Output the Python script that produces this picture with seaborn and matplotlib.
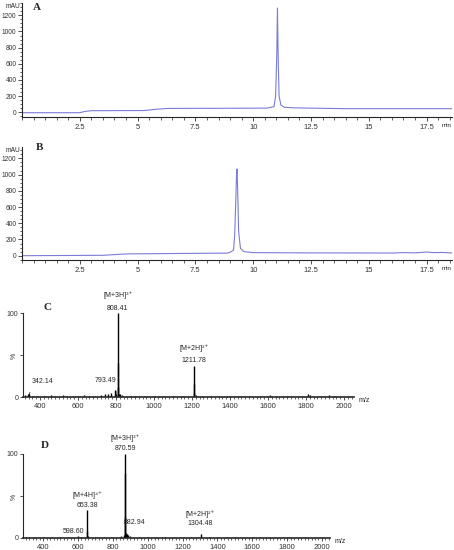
import numpy as np
import pandas as pd
import matplotlib
matplotlib.use("Agg")
import matplotlib.pyplot as plt
import seaborn as sns
from matplotlib.ticker import MultipleLocator

# --- datos de los cromatogramas (min, mAU) ---
tiempo_a = [0.0, 2.5, 2.7, 3.0, 5.3, 5.7, 6.3, 9.0, 10.6, 10.9, 10.97, 11.02, 11.05,
            11.08, 11.12, 11.2, 11.35, 11.8, 14.0, 18.6]
abs_a = [-5, -5, 10, 20, 22, 35, 48, 50, 52, 70, 200, 700, 1290,
         700, 200, 90, 62, 55, 45, 45]

tiempo_b = [0.0, 3.5, 4.5, 7.0, 8.9, 9.05, 9.15, 9.2, 9.25, 9.28, 9.3, 9.33, 9.37,
            9.45, 9.6, 10.0, 12.0, 16.0, 16.5, 17.0, 17.5, 17.8, 18.2, 18.6]
abs_b = [0, 5, 22, 28, 32, 50, 70, 250, 700, 1000, 1070, 800, 300,
         90, 50, 38, 35, 33, 38, 35, 45, 38, 40, 33]

# --- espectros de masas (m/z, %) ---
mz_c = [318, 335, 342.14, 360, 390, 420, 455, 480, 520, 540, 575, 600, 630, 660, 690,
        720, 740, 760, 775, 793.49, 800, 808.41, 808.75, 809.1, 815, 820, 830, 850,
        880, 900, 950, 1000, 1050, 1100, 1150, 1211.78, 1212.28, 1212.8, 1220, 1250,
        1300, 1400, 1500, 1610, 1700, 1810, 1820, 1920, 1950]
int_c = [2, 3, 3.5, 1.5, 1, 1.5, 2, 1, 2.5, 1.5, 1, 1.5, 2, 1.5, 1,
         2, 3.5, 4, 5, 8, 3, 100, 40, 12, 4, 3, 2, 1.5,
         1, 1.5, 1, 1, 1, 1.5, 1, 37, 15, 5, 2, 1,
         1, 1, 1, 2.5, 1, 3, 2, 2, 1.5]

mz_d = [300, 350, 400, 450, 500, 550, 598.60, 620, 653.38, 653.63, 660, 700, 750, 800,
        850, 865, 870.59, 870.92, 871.25, 875, 882.94, 890, 900, 950, 1000, 1050, 1100,
        1150, 1200, 1250, 1304.48, 1350, 1400, 1450, 1500, 1600, 1700, 1800, 1900, 2000]
int_d = [1, 1.5, 1, 1.5, 1, 1.5, 2.5, 1, 33, 8, 2, 1, 1.5, 1.5,
         2, 3, 100, 77, 25, 6, 5, 3, 2, 1.5, 1.5, 1, 1.5,
         1, 1, 1, 5, 1, 1.5, 1, 1, 1, 1, 1, 1, 1]

sns.set_style("ticks")
plt.rcParams['font.family'] = ['Liberation Sans', 'DejaVu Sans']
plt.rcParams['font.size'] = 5.5
plt.rcParams['axes.linewidth'] = 0.8

W, H = 454, 550
fig = plt.figure(figsize=(W / 100, H / 100), dpi=100)

def caja(x0, y0, x1, y1):
    return [x0 / W, 1 - y1 / H, (x1 - x0) / W, (y1 - y0) / H]

color_uv = "#7b7bd8"

def cromatograma(pos, t, a, ylim, letra, lpos):
    ax = fig.add_axes(caja(*pos))
    df = pd.DataFrame({'t': t, 'a': a})
    sns.lineplot(data=df, x='t', y='a', ax=ax, color=color_uv, lw=0.8, sort=False)
    ax.set_xlim(0, 18.6)
    ax.set_ylim(*ylim)
    ax.set_xlabel('')
    ax.set_ylabel('')
    sns.despine(ax=ax)
    ax.xaxis.set_major_locator(MultipleLocator(2.5))
    ax.xaxis.set_minor_locator(MultipleLocator(0.5))
    ax.yaxis.set_major_locator(MultipleLocator(200))
    ax.yaxis.set_minor_locator(MultipleLocator(50))
    ax.set_xticks([2.5, 5, 7.5, 10, 12.5, 15, 17.5])
    ax.set_xticklabels(['2.5', '5', '7.5', '10', '12.5', '15', '17.5'])
    ax.tick_params(which='major', length=3, width=0.6, pad=2, colors='#333333')
    ax.tick_params(axis='y', labelsize=4.8, pad=1)
    ax.tick_params(which='minor', length=1.8, width=0.5)
    ax.text(-0.005, 1.0, 'mAU', transform=ax.transAxes, ha='right', va='top', fontsize=4.8)
    ax.text(1.0, -0.05, 'min', transform=ax.transAxes, ha='right', va='top', fontsize=4.5)
    fig.text(lpos[0] / W, 1 - lpos[1] / H, letra, family='Liberation Serif',
             fontweight='bold', fontsize=8, ha='center', va='center')
    return ax

cromatograma((22, 3, 452, 117), tiempo_a, abs_a, (-58, 1352), 'A', (37, 7))
cromatograma((22, 147, 452, 260), tiempo_b, abs_b, (-53, 1340), 'B', (40, 148))

def espectro(pos, mz, inten, xlim, letra, lpos):
    ax = fig.add_axes(caja(*pos))
    ax.vlines(mz, 0, inten, color='black', lw=1.0)
    ax.set_xlim(*xlim)
    ax.set_ylim(0, 100)
    sns.despine(ax=ax)
    ax.set_xticks([400, 600, 800, 1000, 1200, 1400, 1600, 1800, 2000])
    ax.xaxis.set_minor_locator(MultipleLocator(20))
    ax.set_yticks([0, 50, 100])
    ax.set_yticklabels(['0', '%', '100'])
    ax.get_yticklabels()[1].set_rotation(90)
    ax.get_yticklabels()[1].set_fontsize(4.5)
    ax.tick_params(which='major', length=2.5, width=0.6, pad=2, colors='#333333')
    ax.tick_params(axis='y', labelsize=5, pad=1)
    ax.tick_params(which='minor', length=1.5, width=0.5)
    ax.spines['bottom'].set_linewidth(1.2)
    ax.text(1.015, 0.0, 'm/z', transform=ax.transAxes, ha='left', va='top', fontsize=5)
    fig.text(lpos[0] / W, 1 - lpos[1] / H, letra, family='Liberation Serif',
             fontweight='bold', fontsize=8, ha='center', va='center')
    return ax

def etiqueta(ax, x, y, texto):
    ax.text(x, y, texto, ha='center', va='center', fontsize=5, clip_on=False)

def guia(ax, texto, xy, xytext, rad):
    ax.annotate(texto, xy=xy, xytext=xytext, ha='center', va='center', fontsize=5,
                annotation_clip=False,
                arrowprops=dict(arrowstyle='-', lw=0.5, color='black',
                                connectionstyle='arc3,rad=%s' % rad, shrinkA=3, shrinkB=0))

ax_c = espectro((23, 313, 354, 397), mz_c, int_c, (310, 2053), 'C', (47, 308))
etiqueta(ax_c, 808.41, 121, '[M+3H]³⁺')
etiqueta(ax_c, 808.41, 105, '808.41')
etiqueta(ax_c, 1212, 58, '[M+2H]²⁺')
etiqueta(ax_c, 1212, 43, '1211.78')
guia(ax_c, '342.14', (342, 2), (410, 18), 0.3)
guia(ax_c, '793.49', (800, 3), (747, 20), -0.4)

ax_d = espectro((23, 454, 330, 538), mz_d, int_d, (285, 2046), 'D', (45, 445))
etiqueta(ax_d, 870.59, 119, '[M+3H]³⁺')
etiqueta(ax_d, 870.59, 106, '870.59')
etiqueta(ax_d, 653.38, 51, '[M+4H]⁴⁺')
etiqueta(ax_d, 653.38, 39, '653.38')
etiqueta(ax_d, 572, 8, '598.60')
etiqueta(ax_d, 1300, 29, '[M+2H]²⁺')
etiqueta(ax_d, 1300, 17, '1304.48')
guia(ax_d, '882.94', (876, 4), (927, 18), 0.4)

fig.savefig('out.png', dpi=100)
plt.close()
